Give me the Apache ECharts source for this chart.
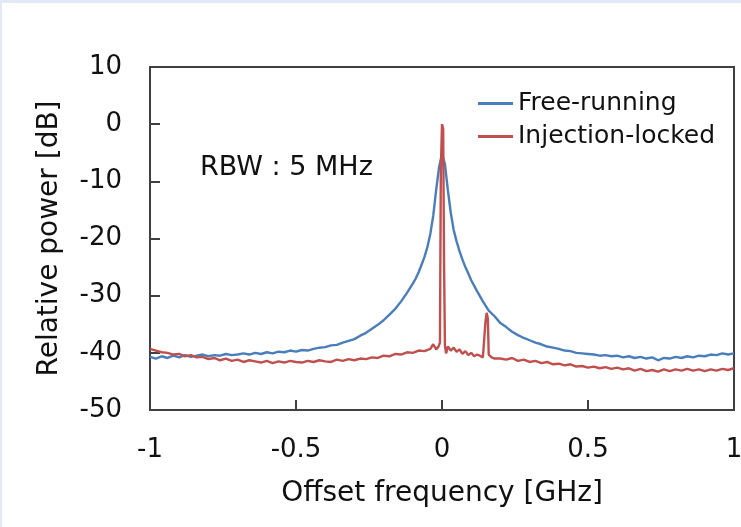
<!DOCTYPE html>
<html>
<head>
<meta charset="utf-8">
<script src="https://cdn.jsdelivr.net/npm/echarts@6/dist/echarts.min.js"></script>
<style>
html,body{margin:0;padding:0;background:#fff;}
#chart{position:absolute;left:0;top:0;width:741px;height:527px;}
#bt{position:absolute;left:0;top:0;width:741px;height:3px;background:#e3e9f5;}
#bl{position:absolute;left:0;top:0;width:2px;height:527px;background:#e3e9f5;}
</style>
</head>
<body>
<div id="chart"></div>
<div id="bt"></div>
<div id="bl"></div>
<script>
// Offset frequency [GHz] and relative power [dB]
const seriesNames = ["Free-running", "Injection-locked"];
const xTicks = [-1, -0.5, 0, 0.5, 1];
const yTicks = [-50, -40, -30, -20, -10, 0, 10];

const fxFree = [-1.00,-0.98,-0.96,-0.94,-0.92,-0.90,-0.88,-0.86,-0.84,-0.82,-0.80,-0.78,-0.76,-0.74,-0.72,-0.70,-0.68,-0.66,-0.64,-0.62,-0.60,-0.58,-0.56,-0.54,-0.52,-0.50,-0.48,-0.46,-0.44,-0.42,-0.40,-0.38,-0.36,-0.34,-0.32,-0.30,-0.28,-0.26,-0.24,-0.22,-0.20,-0.18,-0.16,-0.14,-0.12,-0.10,-0.09,-0.08,-0.07,-0.06,-0.05,-0.04,-0.03,-0.02,-0.01,0.00,0.01,0.02,0.03,0.04,0.05,0.06,0.07,0.08,0.09,0.10,0.12,0.14,0.16,0.18,0.20,0.22,0.24,0.26,0.28,0.30,0.32,0.34,0.36,0.38,0.40,0.42,0.44,0.46,0.48,0.50,0.52,0.54,0.56,0.58,0.60,0.62,0.64,0.66,0.68,0.70,0.72,0.74,0.76,0.78,0.80,0.82,0.84,0.86,0.88,0.90,0.92,0.94,0.96,0.98,1.00];
const pFree = [-40.7,-41.0,-40.6,-40.9,-40.5,-40.8,-40.4,-40.7,-40.5,-40.3,-40.6,-40.4,-40.5,-40.2,-40.4,-40.3,-40.1,-40.3,-40.0,-40.2,-39.9,-40.1,-39.8,-39.9,-39.6,-39.8,-39.5,-39.6,-39.3,-39.1,-39.0,-38.7,-38.6,-38.2,-37.9,-37.6,-37.0,-36.5,-35.8,-35.1,-34.3,-33.3,-32.3,-31.0,-29.5,-27.9,-27.0,-25.9,-24.6,-23.2,-21.5,-19.2,-16.0,-11.5,-7.5,-5.2,-7.0,-11.5,-15.5,-18.5,-20.5,-22.2,-23.7,-25.0,-26.1,-27.3,-29.2,-31.0,-32.6,-33.6,-34.8,-35.5,-36.3,-36.9,-37.4,-37.8,-38.2,-38.5,-38.9,-39.1,-39.3,-39.6,-39.7,-40.0,-40.1,-40.2,-40.3,-40.5,-40.4,-40.6,-40.5,-40.8,-40.6,-40.9,-40.7,-41.0,-40.8,-41.3,-40.9,-41.0,-40.7,-40.9,-40.6,-40.8,-40.5,-40.6,-40.3,-40.4,-40.1,-40.3,-40.1];

const fxLocked = [-1.00,-0.98,-0.96,-0.94,-0.92,-0.90,-0.88,-0.86,-0.84,-0.82,-0.80,-0.78,-0.76,-0.74,-0.72,-0.70,-0.68,-0.66,-0.64,-0.62,-0.60,-0.58,-0.56,-0.54,-0.52,-0.50,-0.48,-0.46,-0.44,-0.42,-0.40,-0.38,-0.36,-0.34,-0.32,-0.30,-0.28,-0.26,-0.24,-0.22,-0.20,-0.18,-0.16,-0.14,-0.12,-0.10,-0.08,-0.06,-0.04,-0.03,-0.02,-0.012,-0.007,-0.004,0.000,0.004,0.007,0.010,0.014,0.02,0.03,0.04,0.05,0.06,0.07,0.08,0.09,0.10,0.11,0.12,0.13,0.14,0.146,0.149,0.153,0.157,0.160,0.17,0.18,0.20,0.22,0.24,0.26,0.28,0.30,0.32,0.34,0.36,0.38,0.40,0.42,0.44,0.46,0.48,0.50,0.52,0.54,0.56,0.58,0.60,0.62,0.64,0.66,0.68,0.70,0.72,0.74,0.76,0.78,0.80,0.82,0.84,0.86,0.88,0.90,0.92,0.94,0.96,0.98,1.00];
const pLocked = [-39.3,-39.6,-39.9,-40.0,-40.3,-40.2,-40.6,-40.4,-40.8,-40.7,-41.1,-40.9,-41.3,-41.0,-41.4,-41.2,-41.6,-41.3,-41.5,-41.7,-41.4,-41.8,-41.5,-41.7,-41.4,-41.6,-41.7,-41.4,-41.6,-41.3,-41.5,-41.6,-41.2,-41.4,-41.1,-41.3,-41.0,-41.1,-40.8,-40.9,-40.5,-40.6,-40.2,-40.3,-39.9,-40.0,-39.6,-39.7,-39.3,-38.5,-39.4,-38.9,-38.2,-8.0,0.0,-0.8,-24.0,-38.7,-40.1,-38.9,-39.6,-39.1,-39.8,-39.4,-40.2,-39.7,-40.4,-40.0,-40.6,-40.3,-40.5,-40.8,-40.5,-34.5,-33.0,-34.0,-40.3,-40.8,-41.0,-41.0,-41.2,-40.9,-41.4,-41.2,-41.6,-41.4,-41.8,-41.6,-42.0,-41.9,-42.2,-42.0,-42.4,-42.3,-42.6,-42.4,-42.7,-42.5,-42.8,-42.6,-42.9,-42.7,-43.1,-42.8,-43.2,-43.0,-43.3,-42.9,-43.2,-42.9,-43.1,-42.8,-43.1,-42.9,-43.2,-42.9,-43.1,-42.8,-43.0,-42.7];

const annotation = "RBW : 5 MHz";

const toPairs = (xs, ys) => xs.map((x, i) => [x, ys[i]]);
const FONT = "DejaVu Sans";
const TXT = "#111111";
const AX = "#404040";

const chart = echarts.init(document.getElementById('chart'), null, {renderer: 'canvas'});
chart.setOption({
  backgroundColor: 'transparent',
  animation: false,
  grid: {left: 150, right: 7, top: 67, bottom: 117, containLabel: false, outerBoundsMode: 'none',
         show: true, borderColor: AX, borderWidth: 2, backgroundColor: 'transparent'},
  legend: {
    orient: 'vertical', left: 473, top: 86,
    icon: 'rect', itemWidth: 35, itemHeight: 3, itemGap: 8,
    textStyle: {fontFamily: FONT, fontSize: 25, color: TXT},
    data: seriesNames
  },
  xAxis: {
    type: 'value', min: xTicks[0], max: xTicks[xTicks.length - 1], interval: 0.5,
    name: 'Offset frequency [GHz]', nameLocation: 'middle', nameGap: 70,
    nameTextStyle: {fontFamily: FONT, fontSize: 28, color: TXT},
    axisLine: {show: true, onZero: false, lineStyle: {color: AX, width: 2}},
    axisTick: {show: true, inside: true, length: 10, lineStyle: {color: AX, width: 2}},
    axisLabel: {fontFamily: FONT, fontSize: 26, color: TXT, margin: 27},
    splitLine: {show: false}
  },
  yAxis: {
    type: 'value', min: yTicks[0], max: yTicks[yTicks.length - 1], interval: 10,
    name: 'Relative power [dB]', nameLocation: 'middle', nameGap: 86, nameRotate: 90,
    nameTextStyle: {fontFamily: FONT, fontSize: 28, color: TXT},
    axisLine: {show: true, onZero: false, lineStyle: {color: AX, width: 2}},
    axisTick: {show: true, inside: true, length: 10, lineStyle: {color: AX, width: 2}},
    axisLabel: {fontFamily: FONT, fontSize: 26, color: TXT, margin: 28},
    splitLine: {show: false}
  },
  graphic: [{
    type: 'text', left: 200, top: 154,
    style: {text: annotation, font: '27px "DejaVu Sans"', fill: TXT}
  }],
  series: [
    {name: seriesNames[0], type: 'line', data: toPairs(fxFree, pFree), showSymbol: false, symbol: 'none',
     lineStyle: {color: '#4a7ebb', width: 2.4}, itemStyle: {color: '#4a7ebb'}, z: 2},
    {name: seriesNames[1], type: 'line', data: toPairs(fxLocked, pLocked), showSymbol: false, symbol: 'none',
     lineStyle: {color: '#c0504d', width: 2.4}, itemStyle: {color: '#c0504d'}, z: 3}
  ]
});
</script>
</body>
</html>
